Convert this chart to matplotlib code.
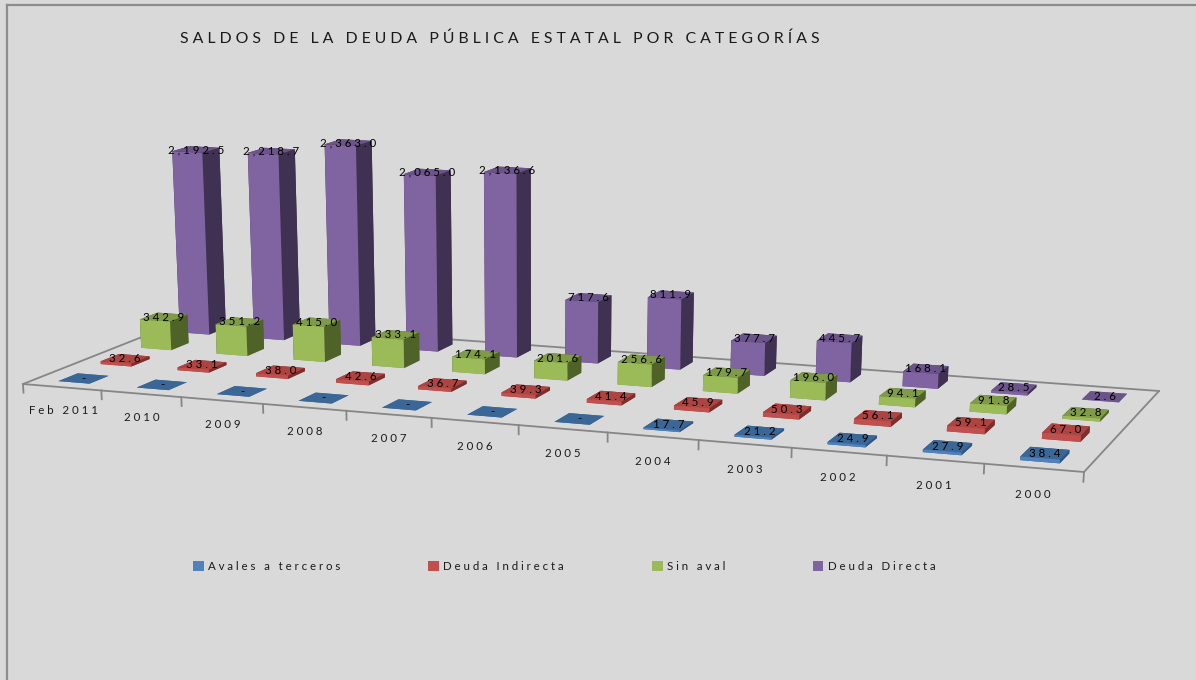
import matplotlib
matplotlib.use('Agg')
import matplotlib.pyplot as plt
import numpy as np
from matplotlib.lines import Line2D
from matplotlib.patches import Patch

plt.rcParams['font.family'] = ['Lato', 'DejaVu Sans']

W, H = 1196, 680

categories = ['Feb 2011', '2010', '2009', '2008', '2007', '2006', '2005',
              '2004', '2003', '2002', '2001', '2000']
series = ['Avales a terceros', 'Deuda Indirecta', 'Sin aval', 'Deuda Directa']

avales = [0, 0, 0, 0, 0, 0, 0, 17.7, 21.2, 24.9, 27.9, 38.4]
indirecta = [32.6, 33.1, 38.0, 42.6, 36.7, 39.3, 41.4, 45.9, 50.3, 56.1, 59.1, 67.0]
sin_aval = [342.9, 351.2, 415.0, 333.1, 174.1, 201.6, 256.6, 179.7, 196.0, 94.1, 91.8, 32.8]
directa = [2192.5, 2218.7, 2363.0, 2065.0, 2136.6, 717.6, 811.9, 377.7, 445.7, 168.1, 28.5, 2.6]
values = [avales, indirecta, sin_aval, directa]

# front, top, side of each series
colors = [('#4F81BD', '#3B6797', '#2F5480'),
          ('#C0504D', '#AD4441', '#7A2F2D'),
          ('#9BBB59', '#7F9B48', '#4F6228'),
          ('#8064A2', '#6B5489', '#3F3151')]

# where the floor corners land in the picture (px from top left)
floor_data = [(0, 0), (12, 0), (12, 4), (0, 4)]
floor_px = [(23, 384), (1084, 472), (1159, 391), (185, 320)]
vertical_vp = (540, 9000)  # vertical edges converge far below the chart
z_rate = 0.0795  # px per unit of value, at the back left corner
bar_w = 0.4
bar_d = 0.45
tick_drop = -100
label_drop = -273


def camera():
    rows, rhs = [], []
    for (x, y), (u, v) in zip(floor_data, floor_px):
        rows.append([x, y, 1, 0, 0, 0, -u * x, -u * y])
        rows.append([0, 0, 0, x, y, 1, -v * x, -v * y])
        rhs += [u, v]
    a, b, c, d, e, f, g, h = np.linalg.solve(np.array(rows, float), np.array(rhs, float))
    w0 = 4 * h + 1
    k = -z_rate * w0 / (vertical_vp[1] - floor_px[3][1])
    return np.array([[a, b, vertical_vp[0] * k, c],
                     [d, e, vertical_vp[1] * k, f],
                     [g, h, k, 1.0]])


P = camera()


def to_fig(x, y, z):
    u, v, w = P @ np.array([x, y, z, 1.0])
    return u / w / W, 1 - v / w / H


def spaced(s):
    return '\u2005'.join(s)


fig = plt.figure(figsize=(W / 100, H / 100), dpi=100, facecolor='#D9D9D9')
ax = fig.add_axes([0, 0, 1, 1], projection='3d', computed_zorder=False)
ax.set_axis_off()
ax.patch.set_alpha(0)


def get_proj():
    # picture px -> the 2D coordinates mplot3d hands on to transData
    u, v, w = P
    a = ax.transData.inverted().get_matrix()
    up = H * w - v
    # depth is -1/w: farther is larger, and stays <= 0 or Line3D clips the point
    return np.array([a[0, 0] * u + a[0, 1] * up + a[0, 2] * w,
                     a[1, 0] * u + a[1, 1] * up + a[1, 2] * w,
                     [0, 0, 0, -1.0],
                     w])


ax.get_proj = get_proj
ax.apply_aspect = lambda position=None: None  # keep the whole figure as the panel

# floor outline
grid = '#868686'
for j in range(4):
    (x0, y0), (x1, y1) = floor_data[j], floor_data[(j + 1) % 4]
    ax.plot([x0, x1], [y0, y1], [0, 0], color=grid, lw=1.3, zorder=1)
for i in range(len(categories) + 1):
    ax.plot([i, i], [0, 0], [0, tick_drop], color=grid, lw=1.3, zorder=1)

# bars, back row first, left to right
zo = 2
for row in range(len(series) - 1, -1, -1):
    front, top, side = colors[row]
    for i, v in enumerate(values[row]):
        x0 = i + 0.5 - bar_w / 2
        y0 = row + 0.5 - bar_d / 2
        # faces: -z, +z, -y, +y, -x, +x
        ax.bar3d(x0, y0, 0, bar_w, bar_d, v, shade=False, zorder=zo,
                 color=[top, top, front, side, side, side])
        zo += 1

for row in range(len(series)):
    for i, v in enumerate(values[row]):
        label = f'{v:,.1f}' if v else '-'
        px, py = to_fig(i + 0.5, row + 0.5, v)
        fig.text(px, py, spaced(label), ha='center', va='center',
                 fontsize=8.3, color='black')

for i, cat in enumerate(categories):
    px, py = to_fig(i + 0.5, 0, label_drop)
    fig.text(px, py, spaced(cat), ha='center', va='center',
             fontsize=8.3, color='#1A1A1A')

fig.text(180 / W, 1 - 39 / H, spaced('SALDOS DE LA DEUDA PÚBLICA ESTATAL POR CATEGORÍAS'),
         ha='left', va='center', fontsize=11.45, color='#1A1A1A')

handles = [Patch(facecolor=c[0], edgecolor='none') for c in colors]
fig.legend(handles, [spaced(s) for s in series], ncol=4, frameon=False,
           loc='center left', bbox_to_anchor=(183 / W, 1 - 566 / H),
           fontsize=8.3, handlelength=0.95, handleheight=0.95, handletextpad=0.35,
           columnspacing=7.6, labelcolor='#1A1A1A')

# chart area border, only top and left are inside the crop
fig.add_artist(Line2D([7 / W, 7 / W], [0, 1 - 5 / H], color='#8C8C8C', lw=1.6))
fig.add_artist(Line2D([7 / W, 1], [1 - 5 / H, 1 - 5 / H], color='#8C8C8C', lw=1.6))

fig.savefig('out.png', dpi=100, facecolor=fig.get_facecolor())
